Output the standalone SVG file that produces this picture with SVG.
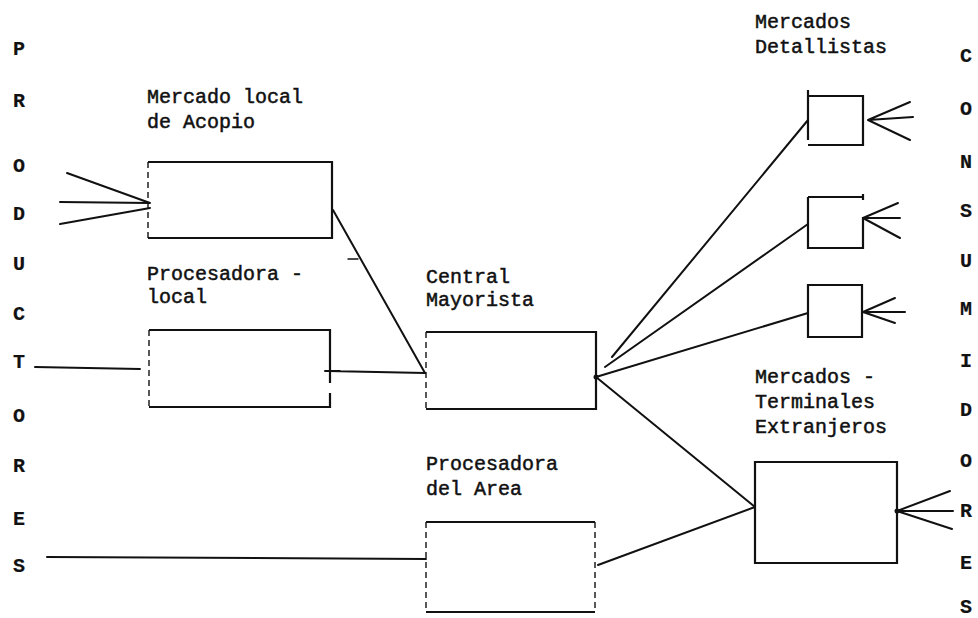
<svg xmlns="http://www.w3.org/2000/svg" width="978" height="618" viewBox="0 0 978 618">
<style>
text{font-family:"Liberation Mono","DejaVu Sans Mono",monospace;font-size:20px;fill:#111;stroke:#111;stroke-width:0.5}
.col{text-anchor:middle;font-size:20px;font-weight:bold;stroke-width:0.2}
.box{fill:none;stroke:#111;stroke-width:2.2}
.dash{fill:none;stroke:#111;stroke-width:1.4;stroke-dasharray:6 4}
.ln{fill:none;stroke:#111;stroke-width:2;stroke-linecap:round}
.thin{fill:none;stroke:#111;stroke-width:1.4;stroke-linecap:round}
</style>
<rect width="978" height="618" fill="#fff"/>
<g id="productores">
<text class="col" x="19" y="55">P</text>
<text class="col" x="19" y="107">R</text>
<text class="col" x="19" y="172">O</text>
<text class="col" x="19" y="220">D</text>
<text class="col" x="19" y="270">U</text>
<text class="col" x="19" y="320">C</text>
<text class="col" x="19" y="368">T</text>
<text class="col" x="19" y="422">O</text>
<text class="col" x="19" y="472">R</text>
<text class="col" x="19" y="525">E</text>
<text class="col" x="19" y="572">S</text>
</g>
<g id="consumidores">
<text class="col" x="966" y="62">C</text>
<text class="col" x="966" y="115">O</text>
<text class="col" x="966" y="168">N</text>
<text class="col" x="966" y="217">S</text>
<text class="col" x="966" y="267">U</text>
<text class="col" x="966" y="315">M</text>
<text class="col" x="966" y="367">I</text>
<text class="col" x="966" y="416">D</text>
<text class="col" x="966" y="467">O</text>
<text class="col" x="966" y="517">R</text>
<text class="col" x="966" y="569">E</text>
<text class="col" x="966" y="613">S</text>
</g>
<g id="mercado-local">
<text x="147" y="103">Mercado local</text>
<text x="147" y="128">de Acopio</text>
<path class="box" d="M148,162 H332 V238 H148"/>
<path class="dash" d="M148,162 V238"/>
</g>
<g id="procesadora-local">
<text x="147" y="280">Procesadora -</text>
<text x="147" y="303">local</text>
<path class="box" d="M149,330 H330 V383 M330,393 V407 H149"/>
<path class="dash" d="M149,330 V407"/>
</g>
<g id="central-mayorista">
<text x="426" y="283">Central</text>
<text x="426" y="306">Mayorista</text>
<path class="box" d="M426,332 H596 V409 H426"/>
<path class="dash" d="M426,332 V409"/>
</g>
<g id="procesadora-area">
<text x="426" y="470">Procesadora</text>
<text x="426" y="495">del Area</text>
<path class="box" d="M426,522 H595 M426,612 H595"/>
<path class="dash" d="M426,522 V612 M595,522 V612"/>
</g>
<g id="detallista-1">
<text x="755" y="28">Mercados</text>
<text x="755" y="53">Detallistas</text>
<path class="box" d="M808,90 V140 M808,96 H863 V145 H808"/>
</g>
<g id="detallista-2">
<path class="box" d="M808,197 H863 M863,194 V200 M863,217 V248 H808 V197"/>
</g>
<g id="detallista-3">
<path class="box" d="M808,285 H862 V337 H808 Z"/>
</g>
<g id="terminales">
<text x="755" y="383">Mercados -</text>
<text x="755" y="408">Terminales</text>
<text x="755" y="433">Extranjeros</text>
<path class="box" d="M755,462 H897 V563 H755 Z"/>
</g>
<g id="connectors">
<path class="ln" d="M67,173 L150,203 M60,202 L150,203 M60,224 L150,208"/>
<path class="ln" d="M35,367 L140,369" stroke-width="3"/>
<path class="ln" d="M47,557 L426,559"/>
<path class="ln" d="M333,210 L425,373"/>
<path class="thin" d="M348,259 H358"/>
<path class="ln" d="M328,371 L425,373 M325,371 H340"/>
<path class="ln" d="M612,357 L808,120"/>
<path class="ln" d="M605,367 L808,224"/>
<path class="ln" d="M596,377 L808,313"/>
<path class="ln" d="M596,377 L755,507"/>
<path class="ln" d="M598,565 L755,507"/>
<circle cx="596" cy="377" r="2.5" fill="#111"/>
<path class="ln" d="M868,120 L910,102 M868,120 L913,117 M868,120 L910,140"/>
<path class="ln" d="M863,218 L898,203 M863,218 L900,218 M863,218 L900,238"/>
<path class="ln" d="M863,312 L895,298 M863,312 L905,312 M863,312 L895,323"/>
<path class="ln" d="M897,511 L950,491 M897,511 L953,511 M897,511 L952,529"/>
<circle cx="897" cy="511" r="2.5" fill="#111"/>
</g>
</svg>
